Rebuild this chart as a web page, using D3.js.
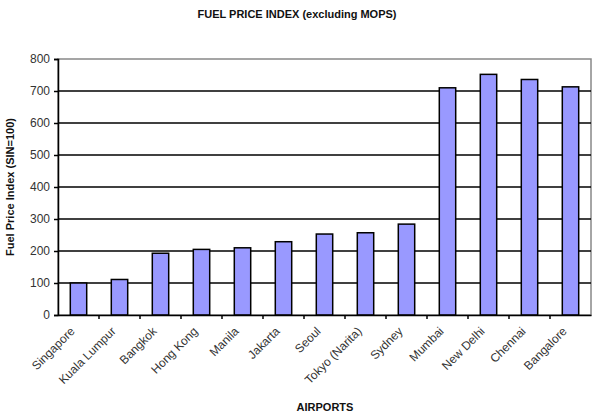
<!DOCTYPE html>
<html><head><meta charset="utf-8">
<script src="https://cdn.jsdelivr.net/npm/d3@7/dist/d3.min.js"></script>
<style>body{margin:0;background:#fff}svg{display:block}</style>
</head><body><svg id="c" width="600" height="414"></svg>
<script>
const categories = ["Singapore","Kuala Lumpur","Bangkok","Hong Kong","Manila","Jakarta","Seoul","Tokyo (Narita)","Sydney","Mumbai","New Delhi","Chennai","Bangalore"];
const values = [100,111,193,205,210,229,253,257,284,710,752,736,713];
const yTicks = [0,100,200,300,400,500,600,700,800];

const svg = d3.select("#c");
const m = {l:58, r:9, t:59, b:99};
const W = 600, H = 414;
const x = d3.scaleBand().domain(categories).range([m.l, W - m.r]).paddingInner(0.6).paddingOuter(0.3);
const xb = d3.scaleBand().domain(categories).range([m.l, W - m.r]);
const y = d3.scaleLinear().domain([0,800]).range([H - m.b, m.t]);
const font = "'Liberation Sans', Arial, sans-serif";

// plot border (gray top/right)
svg.append("rect").attr("x", m.l).attr("y", m.t).attr("width", W - m.r - m.l).attr("height", y(0) - m.t)
  .attr("fill","none").attr("stroke","#888").attr("stroke-width",1.5);

// gridlines
svg.append("g").selectAll("line").data(yTicks.filter(d => d > 0 && d < 800)).join("line")
  .attr("x1", m.l).attr("x2", W - m.r).attr("y1", d => y(d)).attr("y2", d => y(d))
  .attr("stroke","#000").attr("stroke-width",1.5);

// bars
svg.append("g").selectAll("rect").data(categories).join("rect")
  .attr("x", d => x(d)).attr("width", x.bandwidth())
  .attr("y", (d,i) => y(values[i])).attr("height", (d,i) => y(0) - y(values[i]))
  .attr("fill","#9999ff").attr("stroke","#000").attr("stroke-width",1.5);

// y axis
const ya = svg.append("g").attr("transform",`translate(${m.l},0)`)
  .call(d3.axisLeft(y).tickValues(yTicks).tickSize(4).tickPadding(4));
ya.select(".domain").attr("stroke","#000").attr("stroke-width",1.5);
ya.selectAll(".tick line").attr("stroke","#000").attr("stroke-width",1.5);
ya.selectAll("text").attr("font-family",font).attr("font-size",12).attr("fill","#333");

// x axis
const xa = svg.append("g").attr("transform",`translate(0,${y(0)})`)
  .call(d3.axisBottom(xb).tickSize(0).tickPadding(0));
xa.select(".domain").attr("stroke","#000").attr("stroke-width",1.5);
xa.selectAll(".tick text").attr("font-family",font).attr("font-size",12).attr("fill","#333")
  .attr("text-anchor","end").attr("dy",0)
  .attr("transform","translate(-3,17) rotate(-45)");
// tick marks at band boundaries
xa.append("g").selectAll("line").data(categories.slice(1)).join("line")
  .attr("x1", d => xb(d)).attr("x2", d => xb(d)).attr("y1",0).attr("y2",4)
  .attr("stroke","#000").attr("stroke-width",1.5);

// title
svg.append("text").attr("x",297).attr("y",18).attr("text-anchor","middle")
  .attr("font-family",font).attr("font-size",11).attr("font-weight","bold").attr("fill","#111")
  .text("FUEL PRICE INDEX (excluding MOPS)");
svg.append("text").attr("transform",`translate(14,${(m.t + y(0))/2}) rotate(-90)`).attr("text-anchor","middle")
  .attr("font-family",font).attr("font-size",11).attr("font-weight","bold").attr("fill","#111")
  .text("Fuel Price Index (SIN=100)");
svg.append("text").attr("x",325).attr("y",411).attr("text-anchor","middle")
  .attr("font-family",font).attr("font-size",11).attr("font-weight","bold").attr("fill","#111")
  .text("AIRPORTS");
</script></body></html>
